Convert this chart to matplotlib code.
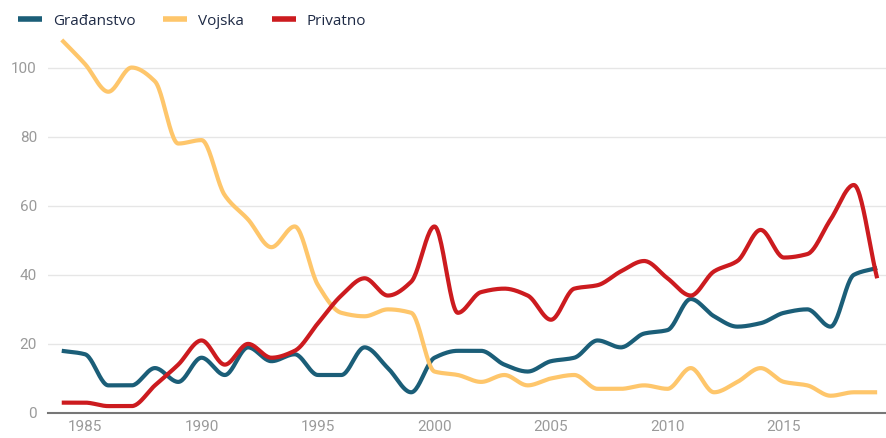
import matplotlib
matplotlib.use('Agg')
import matplotlib.pyplot as plt
import numpy as np

years = list(range(1984, 2020))

gradjanstvo = [18, 17, 8, 8, 13, 9, 16, 11, 19, 15, 17, 11, 11, 19, 13, 6, 16, 18,
               18, 14, 12, 15, 16, 21, 19, 23, 24, 33, 28, 25, 26, 29, 30, 25, 40, 42]
vojska = [108, 101, 93, 100, 96, 78, 79, 63, 56, 48, 54, 37, 29, 28, 30, 29, 12, 11,
          9, 11, 8, 10, 11, 7, 7, 8, 7, 13, 6, 9, 13, 9, 8, 5, 6, 6]
privatno = [3, 3, 2, 2, 8, 14, 21, 14, 20, 16, 18, 26, 34, 39, 34, 38, 54, 29,
            35, 36, 34, 27, 36, 37, 41, 44, 39, 34, 41, 44, 53, 45, 46, 56, 66, 39]

series_names = ['Građanstvo', 'Vojska', 'Privatno']
colors = ['#1b5e78', '#fec66b', '#cc1b1f']


def monotone(x, y, n=24):
    # monotone cubic (pchip-like) curve through the points, for a smooth line
    x = np.asarray(x, float)
    y = np.asarray(y, float)
    h = np.diff(x)
    d = np.diff(y) / h
    m = np.zeros_like(y)
    m[0] = d[0]
    m[-1] = d[-1]
    for i in range(1, len(y) - 1):
        if d[i - 1] * d[i] <= 0:
            m[i] = 0
        else:
            w1 = 2 * h[i] + h[i - 1]
            w2 = h[i] + 2 * h[i - 1]
            m[i] = (w1 + w2) / (w1 / d[i - 1] + w2 / d[i])
    xs, ys = [], []
    for i in range(len(x) - 1):
        t = np.linspace(0, 1, n, endpoint=False)
        h00 = 2 * t**3 - 3 * t**2 + 1
        h10 = t**3 - 2 * t**2 + t
        h01 = -2 * t**3 + 3 * t**2
        h11 = t**3 - t**2
        xs.append(x[i] + t * h[i])
        ys.append(h00 * y[i] + h10 * h[i] * m[i] + h01 * y[i + 1] + h11 * h[i] * m[i + 1])
    xs.append([x[-1]])
    ys.append([y[-1]])
    return np.concatenate(xs), np.concatenate(ys)


fig = plt.figure(figsize=(8.86, 4.38), dpi=100)
ax = fig.add_axes([48 / 886, 25 / 438, 838 / 886, 380 / 438])

for name, vals, c in zip(series_names, [gradjanstvo, vojska, privatno], colors):
    sx, sy = monotone(years, vals)
    ax.plot(sx, sy, color=c, lw=3, label=name, solid_capstyle='butt', clip_on=False)

ax.set_xlim(1983.41, 2019.38)
ax.set_ylim(0, 110)
ax.set_yticks(np.arange(0, 101, 20))
ax.set_xticks(np.arange(1985, 2016, 5))
ax.yaxis.grid(True, color='#e6e6e6', lw=1)
ax.set_axisbelow(True)
for s in ['top', 'right', 'left']:
    ax.spines[s].set_visible(False)
ax.spines['bottom'].set_color('#777777')
ax.spines['bottom'].set_linewidth(1.5)
ax.tick_params(axis='both', length=0, labelsize=11, labelcolor='#9a9a9a', labelfontfamily='Roboto')
ax.tick_params(axis='y', pad=8)
ax.tick_params(axis='x', pad=5)

leg = ax.legend(loc='upper left', bbox_to_anchor=(4 / 886, 1.0), bbox_transform=fig.transFigure,
                ncol=3, frameon=False, handlelength=1.6, handletextpad=0.7, columnspacing=1.8,
                prop={'family': 'Open Sans', 'size': 11})
for t in leg.get_texts():
    t.set_color('#1e2a45')
for l in leg.get_lines():
    l.set_linewidth(4)

plt.savefig('out.png', dpi=100)
plt.close()
